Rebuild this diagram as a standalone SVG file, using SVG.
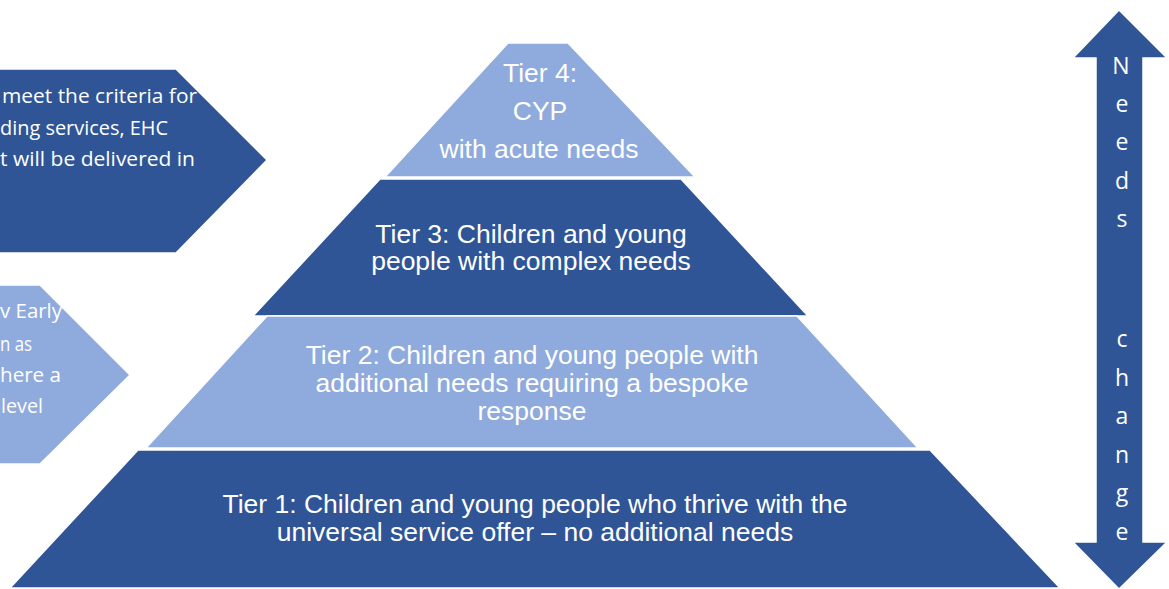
<svg xmlns="http://www.w3.org/2000/svg" width="1169" height="589" viewBox="0 0 1169 589">
<style>
.dark{fill:#2F5597;stroke:#FFFFFF;stroke-width:1.5}
.light{fill:#8FAADC;stroke:#FFFFFF;stroke-width:1.5}
.tier{font-family:"Liberation Sans",Arial,sans-serif;font-size:26.5px;fill:#FFFFFF;text-anchor:middle}
.side{font-family:"Open Sans","Noto Sans",sans-serif;font-size:20.5px;fill:#FFFFFF;text-anchor:end}
.side2{font-family:"Open Sans","Noto Sans",sans-serif;font-size:19.5px;fill:#FFFFFF;text-anchor:end}
.vert{font-family:"Open Sans","Noto Sans",sans-serif;font-size:23px;fill:#FFFFFF;text-anchor:middle}
</style>
<rect width="1169" height="589" fill="#FFFFFF"/>
<g id="arrow-top-left">
<polygon class="dark" points="-2,69 176,69 267,160 176,253 -2,253"/>
<text class="side" x="197" y="103" textLength="195" lengthAdjust="spacingAndGlyphs">meet the criteria for</text>
<text class="side" x="168" y="135" textLength="168" lengthAdjust="spacingAndGlyphs">ding services, EHC</text>
<text class="side" x="195" y="166" textLength="195" lengthAdjust="spacingAndGlyphs">t will be delivered in</text>
</g>
<g id="arrow-bottom-left">
<polygon class="light" points="-2,285 40,285 130,375 40,464 -2,464"/>
<text class="side2" x="62" y="318" textLength="62" lengthAdjust="spacingAndGlyphs">v Early</text>
<text class="side2" x="32" y="351" textLength="32" lengthAdjust="spacingAndGlyphs">n as</text>
<text class="side2" x="61" y="382" textLength="61" lengthAdjust="spacingAndGlyphs">here a</text>
<text class="side2" x="43" y="413" textLength="42" lengthAdjust="spacingAndGlyphs">level</text>
</g>
<g id="tier4">
<polygon class="light" points="508,43 568,43 695,177 385,177"/>
<text class="tier" x="540" y="82">Tier 4:</text>
<text class="tier" x="540" y="120">CYP</text>
<text class="tier" x="539" y="158">with acute needs</text>
</g>
<g id="tier3">
<polygon class="dark" points="380,179 681,179 808,316 253,316"/>
<text class="tier" x="531" y="243">Tier 3: Children and young</text>
<text class="tier" x="531" y="270">people with complex needs</text>
</g>
<g id="tier2">
<polygon class="light" points="267,316 797,316 918,448 146,448"/>
<text class="tier" x="532" y="364">Tier 2: Children and young people with</text>
<text class="tier" x="532" y="392">additional needs requiring a bespoke</text>
<text class="tier" x="532" y="420">response</text>
</g>
<g id="tier1">
<polygon class="dark" points="138,450 930,450 1060,588 10,588"/>
<text class="tier" x="535" y="513">Tier 1: Children and young people who thrive with the</text>
<text class="tier" x="535" y="541">universal service offer – no additional needs</text>
</g>
<g id="needs-change">
<polygon class="dark" points="1119,10 1167,58 1143,58 1143,542 1167,542 1119,589 1073,542 1096,542 1096,58 1073,58"/>
<text class="vert" x="1121" y="74">N</text>
<text class="vert" x="1122" y="112">e</text>
<text class="vert" x="1122" y="150">e</text>
<text class="vert" x="1122" y="189">d</text>
<text class="vert" x="1122" y="227">s</text>
<text class="vert" x="1122" y="347">c</text>
<text class="vert" x="1122" y="386">h</text>
<text class="vert" x="1122" y="424">a</text>
<text class="vert" x="1122" y="463">n</text>
<text class="vert" x="1122" y="501">g</text>
<text class="vert" x="1122" y="540">e</text>
</g>
<g id="connectors"></g>
</svg>
